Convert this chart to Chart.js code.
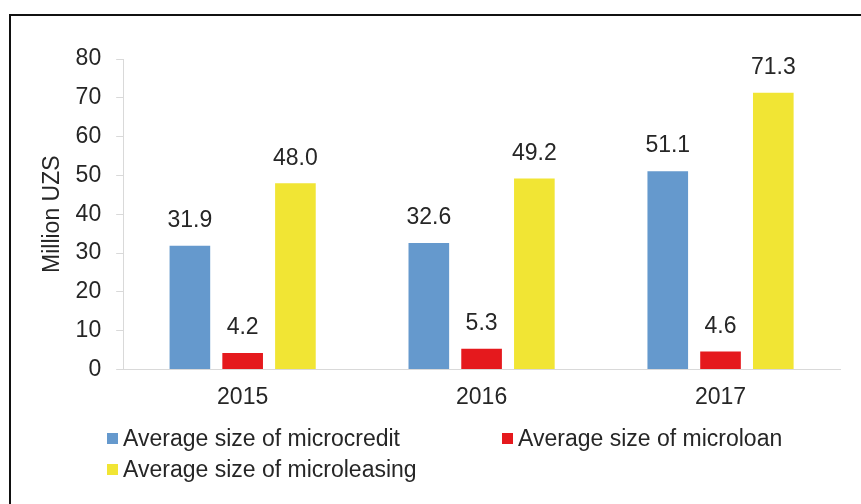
<!DOCTYPE html>
<html lang="en">
<head>
    <meta charset="UTF-8">
    <title>Average size of microfinance products</title>
    <script src="https://cdn.jsdelivr.net/npm/chart.js"></script>
    <style>
        body { margin: 0; background: #fff; font-family: "Liberation Sans", Arial, sans-serif; }
        #frame {
            position: absolute; left: 9px; top: 14px; width: 900px; height: 520px;
            border: 2px solid #111; box-sizing: border-box; pointer-events: none;
        }
        #wrap { position: absolute; left: 0; top: 0; width: 861px; height: 434px; }
        #legend {
            position: absolute; left: 107px; top: 424px;
            display: grid; grid-template-columns: 395px auto; row-gap: 3px;
            font-size: 23px; color: #262626;
        }
        .item { display: flex; align-items: center; height: 28px; }
        .box { width: 11px; height: 11px; margin-right: 5px; }
    </style>
</head>
<body>
    <div id="wrap"><canvas id="barChart"></canvas></div>
    <div id="legend"></div>
    <div id="frame"></div>

    <script>
        const years = ['2015', '2016', '2017'];
        const microcredit = [31.9, 32.6, 51.1];
        const microloan = [4.2, 5.3, 4.6];
        const microleasing = [48.0, 49.2, 71.3];
        const yTicks = [0, 10, 20, 30, 40, 50, 60, 70, 80];

        const textColor = '#262626';
        const axisColor = '#d9d9d9';
        const fontFamily = '"Liberation Sans", Arial, sans-serif';

        // value labels above each bar
        const valueLabels = {
            id: 'valueLabels',
            afterDatasetsDraw(chart) {
                const ctx = chart.ctx;
                ctx.save();
                ctx.font = '23px ' + fontFamily;
                ctx.fillStyle = textColor;
                ctx.textAlign = 'center';
                ctx.textBaseline = 'middle';
                chart.data.datasets.forEach((ds, i) => {
                    chart.getDatasetMeta(i).data.forEach((bar, j) => {
                        ctx.fillText(ds.data[j].toFixed(1), bar.x, bar.y - 25);
                    });
                });
                ctx.restore();
            }
        };

        const ctx = document.getElementById('barChart').getContext('2d');
        const barChart = new Chart(ctx, {
            type: 'bar',
            data: {
                labels: years,
                datasets: [{
                    label: 'Average size of microcredit',
                    data: microcredit,
                    backgroundColor: '#6599cd'
                }, {
                    label: 'Average size of microloan',
                    data: microloan,
                    backgroundColor: '#e5191d'
                }, {
                    label: 'Average size of microleasing',
                    data: microleasing,
                    backgroundColor: '#f1e534'
                }]
            },
            options: {
                responsive: true,
                maintainAspectRatio: false,
                animation: false,
                categoryPercentage: 0.6625,
                barPercentage: 0.77,
                layout: { padding: { left: 4, right: 21, top: 59, bottom: 9 } },
                plugins: {
                    legend: { display: false },
                    tooltip: { enabled: false }
                },
                scales: {
                    x: {
                        grid: { display: false, drawTicks: false },
                        border: { display: true, color: axisColor, width: 1 },
                        ticks: {
                            padding: 14,
                            color: textColor,
                            font: { family: fontFamily, size: 23 }
                        }
                    },
                    y: {
                        min: 0,
                        max: 80,
                        afterBuildTicks: axis => {
                            axis.ticks = yTicks.map(v => ({ value: v }));
                        },
                        grid: { drawOnChartArea: false, drawTicks: true, tickLength: 7, color: axisColor },
                        border: { display: true, color: axisColor, width: 1 },
                        ticks: {
                            padding: 15,
                            color: textColor,
                            font: { family: fontFamily, size: 23 }
                        },
                        title: {
                            display: true,
                            text: 'Million UZS',
                            color: textColor,
                            font: { family: fontFamily, size: 23 },
                            padding: { top: 35, bottom: -6 }
                        }
                    }
                }
            },
            plugins: [valueLabels]
        });

        // legend in two columns, built from the datasets
        const legend = document.getElementById('legend');
        barChart.data.datasets.forEach(ds => {
            const item = document.createElement('div');
            item.className = 'item';
            item.innerHTML = '<span class="box" style="background:' + ds.backgroundColor + '"></span><span>' + ds.label + '</span>';
            legend.appendChild(item);
        });
    </script>
</body>
</html>
